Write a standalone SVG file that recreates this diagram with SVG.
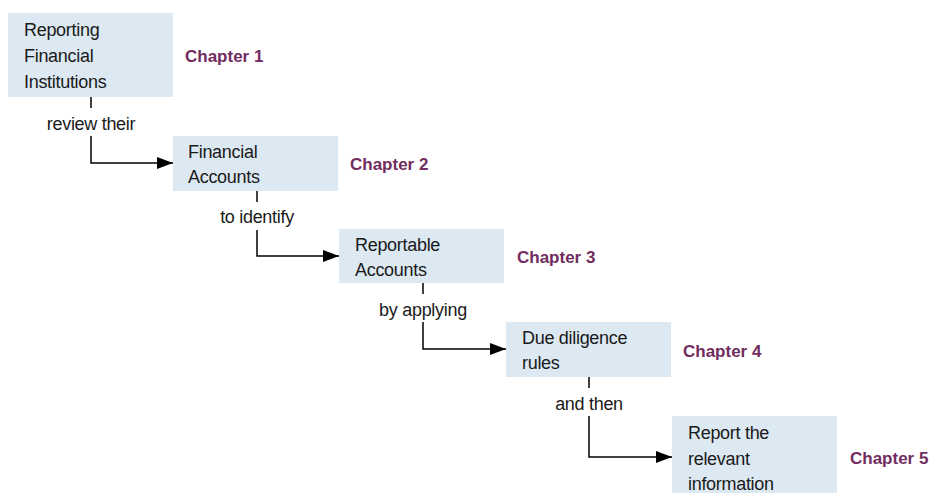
<svg xmlns="http://www.w3.org/2000/svg" width="933" height="493" viewBox="0 0 933 493">
<defs>
<marker id="ah" markerWidth="16" markerHeight="12" refX="16" refY="6" orient="auto" markerUnits="userSpaceOnUse">
<path d="M0,0 L16,6 L0,12 Z" fill="#000"/>
</marker>
<style>
.box{fill:#dce9f2}
.t{font-family:"Liberation Sans",Arial,sans-serif;font-size:18px;fill:#1a1a1a;letter-spacing:-0.3px}
.ch{font-family:"Liberation Sans",Arial,sans-serif;font-size:17px;font-weight:bold;fill:#722d60}
.lbl{font-family:"Liberation Sans",Arial,sans-serif;font-size:18px;fill:#1a1a1a;text-anchor:middle;letter-spacing:-0.3px}
.ln{fill:none;stroke:#000;stroke-width:1.5}
</style>
</defs>
<rect width="933" height="493" fill="#fff"/>
<g id="node1">
<rect class="box" x="8" y="13" width="165" height="84"/>
<text class="t" x="24" y="36">Reporting</text>
<text class="t" x="24" y="62">Financial</text>
<text class="t" x="24" y="88">Institutions</text>
<text class="ch" x="185" y="62">Chapter 1</text>
</g>
<g id="node2">
<rect class="box" x="173" y="136" width="165" height="55"/>
<text class="t" x="188" y="158">Financial</text>
<text class="t" x="188" y="183">Accounts</text>
<text class="ch" x="350" y="170">Chapter 2</text>
</g>
<g id="node3">
<rect class="box" x="339" y="229" width="165" height="54"/>
<text class="t" x="355" y="251">Reportable</text>
<text class="t" x="355" y="276">Accounts</text>
<text class="ch" x="517" y="263">Chapter 3</text>
</g>
<g id="node4">
<rect class="box" x="506" y="322" width="165" height="55"/>
<text class="t" x="522" y="344">Due diligence</text>
<text class="t" x="522" y="369">rules</text>
<text class="ch" x="683" y="357">Chapter 4</text>
</g>
<g id="node5">
<rect class="box" x="672" y="416" width="165" height="80"/>
<text class="t" x="688" y="439">Report the</text>
<text class="t" x="688" y="465">relevant</text>
<text class="t" x="688" y="490">information</text>
<text class="ch" x="850" y="464">Chapter 5</text>
</g>
<g id="connectors">
<path class="ln" d="M91,97 V108"/>
<path class="ln" d="M91,136 V163 H173" marker-end="url(#ah)"/>
<text class="lbl" x="91" y="130">review their</text>
<path class="ln" d="M257,191 V202"/>
<path class="ln" d="M257,230 V256 H339" marker-end="url(#ah)"/>
<text class="lbl" x="257" y="223">to identify</text>
<path class="ln" d="M423,283 V294"/>
<path class="ln" d="M423,322 V349 H506" marker-end="url(#ah)"/>
<text class="lbl" x="423" y="316">by applying</text>
<path class="ln" d="M589,377 V388"/>
<path class="ln" d="M589,416 V457 H672" marker-end="url(#ah)"/>
<text class="lbl" x="589" y="410">and then</text>
</g>
</svg>
